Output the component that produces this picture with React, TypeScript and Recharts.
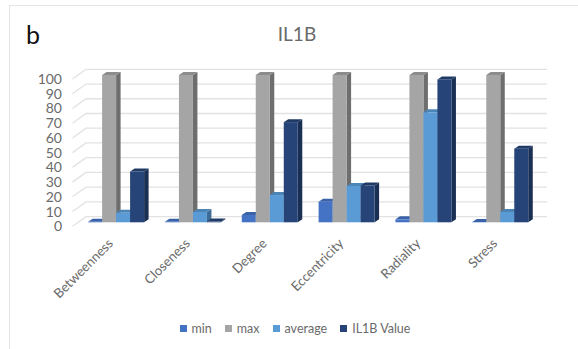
import React from "react";
import { BarChart, Bar, XAxis, YAxis, CartesianGrid, Legend } from "recharts";

const categories = ["Betweenness", "Closeness", "Degree", "Eccentricity", "Radiality", "Stress"];
const seriesNames = ["min", "max", "average", "IL1B Value"];
const minValues = [0.3, 0.3, 5, 14, 2, 0.2];
const maxValues = [100, 100, 100, 100, 100, 100];
const averageValues = [6.5, 7, 18.5, 24.7, 74.7, 7];
const il1bValues = [34.5, 0.5, 68, 25, 97, 50];
const yTicks = [0, 10, 20, 30, 40, 50, 60, 70, 80, 90, 100];

const rows = categories.map((name, i) => ({
  name,
  min: minValues[i],
  max: maxValues[i],
  average: averageValues[i],
  il1b: il1bValues[i],
}));

const FONT = "Lato, 'Open Sans', sans-serif";
const TEXT = "#6a6a6a";
const DEPTH_X = 4.5;
const DEPTH_Y = 3;

// Extruded column: front face, lit top face and shaded right face.
const box = (front: string, top: string, side: string) => (props: any) => {
  const { x, y, width, height } = props;
  const r = x + width;
  const b = y + height;
  return (
    <g>
      <path d={`M${r} ${y}L${r + DEPTH_X} ${y - DEPTH_Y}V${b - DEPTH_Y}L${r} ${b}Z`} fill={side} />
      <path d={`M${x} ${y}L${x + DEPTH_X} ${y - DEPTH_Y}H${r + DEPTH_X}L${r} ${y}Z`} fill={top} />
      <rect x={x} y={y} width={width} height={height} fill={front} />
    </g>
  );
};

// Gridline on the back wall, joined to the axis by a short floor diagonal.
const wallLine = (props: any) => {
  const { x1, x2, y1 } = props;
  return (
    <g key={`wall-${y1}`} stroke="#e2e2e2" strokeWidth={1.3} fill="none">
      <path d={`M${x1 - 5} ${y1 + 4}L${x1 + 8.5} ${y1 - 5.7}H${x2 + 8.5}`} />
    </g>
  );
};

const YTick = (props: any) => (
  <text x={62} y={props.y + 9} textAnchor="end" fontFamily={FONT} fontSize={14} fill={TEXT}>
    {props.payload.value}
  </text>
);

// Category label slanted up to the right, ending under its column group.
const XTick = (props: any) => (
  <text
    x={0}
    y={0}
    transform={`translate(${props.x - 2} ${props.y + 14}) rotate(-45)`}
    textAnchor="end"
    fontFamily={FONT}
    fontSize={13.2}
    fill={TEXT}
  >
    {props.payload.value}
  </text>
);

const LegendRow = ({ payload }: any) => (
  <div style={{ height: 15, display: "flex", justifyContent: "center", gap: 13, fontFamily: FONT, fontSize: 12.5, color: TEXT }}>
    {(payload || []).map((item: any) => (
      <span key={item.value} style={{ display: "flex", alignItems: "center", gap: 5 }}>
        <span style={{ width: 7, height: 7, background: item.color, display: "inline-block" }} />
        {item.value}
      </span>
    ))}
  </div>
);

export default function App() {
  return (
    <div style={{ position: "absolute", left: 0, top: 0, width: 578, height: 349, background: "#fff", overflow: "hidden" }}>
      <div style={{ position: "absolute", left: 9, top: 5, width: 569, height: 344, borderLeft: "1.5px solid #e4e4e4", borderTop: "1.5px solid #e4e4e4" }} />
      <div style={{ position: "absolute", left: 26, top: 19, fontFamily: FONT, fontSize: 25, color: "#111" }}>b</div>
      <div style={{ position: "absolute", left: 0, width: 594, top: 22, textAlign: "center", fontFamily: FONT, fontSize: 19, color: TEXT }}>IL1B</div>
      <BarChart
        width={578}
        height={349}
        data={rows}
        margin={{ top: 60, right: 39.5, bottom: 76.7, left: 0 }}
        barCategoryGap={10.6}
        barGap={0}
        style={{ position: "absolute", left: 0, top: 0 }}
      >
        <CartesianGrid vertical={false} horizontal={wallLine} />
        <XAxis dataKey="name" axisLine={false} tickLine={false} interval={0} tick={XTick} height={50} />
        <YAxis domain={[0, 100]} ticks={yTicks} interval={0} axisLine={false} tickLine={false} width={77.5} tick={YTick} />
        <Legend
          verticalAlign="top"
          itemSorter={(item: any) => seriesNames.indexOf(item.value)}
          content={LegendRow}
          wrapperStyle={{ left: 0, width: 590, top: 321 }}
        />
        <Bar dataKey="min" name={seriesNames[0]} fill="#4472c4" isAnimationActive={false} shape={box("#4472c4", "#3a62a8", "#2f5091")} />
        <Bar dataKey="max" name={seriesNames[1]} fill="#a5a5a5" isAnimationActive={false} shape={box("#a5a5a5", "#8c8c8c", "#6e6e6e")} />
        <Bar dataKey="average" name={seriesNames[2]} fill="#5b9bd5" isAnimationActive={false} shape={box("#5b9bd5", "#4d84b6", "#3f6c96")} />
        <Bar dataKey="il1b" name={seriesNames[3]} fill="#264478" isAnimationActive={false} shape={box("#264478", "#203a66", "#1a2f54")} />
      </BarChart>
    </div>
  );
}
